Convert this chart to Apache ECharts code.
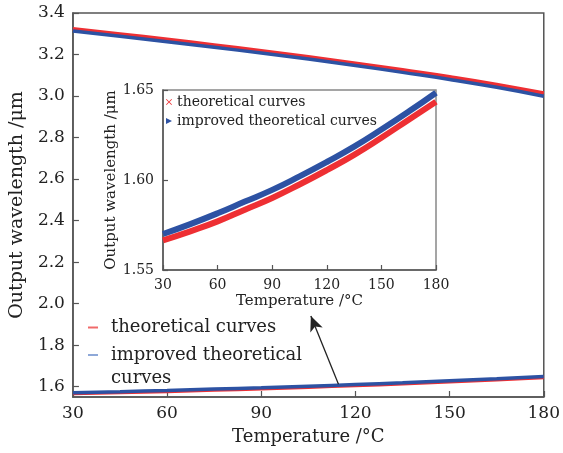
<!DOCTYPE html>
<html>
<head>
<meta charset="utf-8">
<script src="https://cdn.jsdelivr.net/npm/echarts@6/dist/echarts.min.js"></script>
<style>
  html, body { margin: 0; padding: 0; background: #fff; }
  #chart { width: 563px; height: 453px; }
</style>
</head>
<body>
<div id="chart"></div>
<script>
const temps = [30, 45, 60, 75, 90, 105, 120, 135, 150, 165, 180];

// upper branch (main plot)
const upperTheory = [3.323, 3.298, 3.272, 3.245, 3.217, 3.188, 3.157, 3.125, 3.092, 3.055, 3.013];
const upperImproved = [3.313, 3.288, 3.262, 3.235, 3.207, 3.178, 3.147, 3.114, 3.080, 3.042, 2.999];

// lower branch (main plot + inset)
const lowerTheory = [1.5665, 1.5715, 1.5770, 1.5835, 1.5900, 1.5975, 1.6055, 1.6140, 1.6235, 1.6335, 1.6435];
const lowerImproved = [1.5700, 1.5755, 1.5815, 1.5880, 1.5945, 1.6020, 1.6100, 1.6185, 1.6280, 1.6380, 1.6485];

const mainYTicks = [1.6, 1.8, 2.0, 2.2, 2.4, 2.6, 2.8, 3.0, 3.2, 3.4];

// arrow from the lower curve up to the inset
const arrowFrom = [114.6, 1.612];
const arrowTo = [105.8, 1.94];

const RED = '#ee2f33';
const BLUE = '#2d52a3';
const FONT = 'DejaVu Serif';
const TXT = '#222';

const pairs = (ys) => temps.map((t, i) => [t, ys[i]]);

const chart = echarts.init(document.getElementById('chart'));

const axisText = (size) => ({ fontFamily: FONT, fontSize: size, color: TXT });

chart.setOption({
  animation: false,
  backgroundColor: '#fff',
  grid: [
    { left: 70, top: 13, width: 479, height: 384, show: true, borderColor: '#555', borderWidth: 1.5 },
    { left: 163, top: 90, width: 273, height: 180, show: true, borderColor: '#888', borderWidth: 1.5, backgroundColor: '#fff', z: 5 }
  ],
  xAxis: [
    {
      gridIndex: 0, type: 'value', min: 30, max: 180, interval: 30,
      name: 'Temperature /°C', nameLocation: 'middle', nameGap: 31,
      nameTextStyle: axisText(18),
      axisLine: { lineStyle: { color: '#555', width: 1.5 } },
      axisTick: { inside: true, length: 6, lineStyle: { color: '#555', width: 1.2 } },
      axisLabel: Object.assign({ margin: 8 }, axisText(17)),
      splitLine: { show: false }
    },
    {
      gridIndex: 1, type: 'value', min: 30, max: 180, interval: 30, z: 6,
      name: 'Temperature /°C', nameLocation: 'middle', nameGap: 24,
      nameTextStyle: axisText(15),
      axisLine: { lineStyle: { color: '#555', width: 1.5 } },
      axisTick: { inside: true, length: 5, lineStyle: { color: '#555', width: 1.2 } },
      axisLabel: Object.assign({ margin: 8 }, axisText(14)),
      splitLine: { show: false }
    }
  ],
  yAxis: [
    {
      gridIndex: 0, type: 'value', min: 1.55, max: 3.4,
      name: 'Output wavelength /μm', nameLocation: 'middle', nameGap: 39,
      nameTextStyle: axisText(19),
      axisLine: { lineStyle: { color: '#555', width: 1.5 } },
      axisTick: { inside: true, length: 6, customValues: mainYTicks, lineStyle: { color: '#555', width: 1.2 } },
      axisLabel: Object.assign({ margin: 8, customValues: mainYTicks, formatter: v => v.toFixed(1) }, axisText(17)),
      splitLine: { show: false }
    },
    {
      gridIndex: 1, type: 'value', min: 1.55, max: 1.65, interval: 0.05, z: 6,
      name: 'Output wavelength /μm', nameLocation: 'middle', nameGap: 33,
      nameTextStyle: axisText(15),
      axisLine: { lineStyle: { color: '#555', width: 1.5 } },
      axisTick: { inside: true, length: 5, lineStyle: { color: '#555', width: 1.2 } },
      axisLabel: Object.assign({ margin: 9, formatter: v => v.toFixed(2) }, axisText(14)),
      splitLine: { show: false }
    }
  ],
  legend: [
    {
      padding: 0, left: 88, top: 316, orient: 'vertical',
      itemWidth: 10, itemHeight: 2,
      textStyle: { fontFamily: FONT, fontSize: 18, color: TXT, lineHeight: 23, padding: [0, 0, 0, 8] },
      data: [{ name: 'theoretical curves', icon: 'rect', itemStyle: { color: '#f06a6a' } }]
    },
    {
      // blank first line keeps the icon level with "improved theoretical"
      padding: 0, left: 88, top: 320.5, orient: 'vertical',
      itemWidth: 10, itemHeight: 2,
      formatter: name => '\u00a0\n' + name,
      textStyle: { fontFamily: FONT, fontSize: 18, color: TXT, lineHeight: 23, padding: [0, 0, 0, 8] },
      data: [{ name: 'improved theoretical\ncurves', icon: 'rect', itemStyle: { color: '#8ea8d8' } }]
    },
    {
      padding: 0, left: 166, top: 94, orient: 'vertical', z: 8,
      itemWidth: 6, itemHeight: 6, itemGap: 3,
      textStyle: { fontFamily: FONT, fontSize: 14, color: TXT, lineHeight: 16 },
      data: [
        { name: 'theoretical curves', icon: 'path://M0,1L1,0L5,4L9,0L10,1L6,5L10,9L9,10L5,6L1,10L0,9L4,5Z', itemStyle: { color: RED } },
        { name: 'improved theoretical curves', icon: 'path://M0,0L10,5L0,10Z', itemStyle: { color: BLUE } }
      ]
    }
  ],
  series: [
    {
      name: 'theoretical curves', type: 'line', xAxisIndex: 0, yAxisIndex: 0,
      data: pairs(upperTheory), smooth: true, showSymbol: false,
      lineStyle: { color: RED, width: 4 }, itemStyle: { color: RED }
    },
    {
      name: 'improved theoretical\ncurves', type: 'line', xAxisIndex: 0, yAxisIndex: 0,
      data: pairs(upperImproved), smooth: true, showSymbol: false,
      lineStyle: { color: BLUE, width: 3.5 }, itemStyle: { color: BLUE }
    },
    {
      name: 'theoretical curves', type: 'line', xAxisIndex: 0, yAxisIndex: 0,
      data: pairs(lowerTheory), smooth: true, showSymbol: false,
      lineStyle: { color: RED, width: 3.5 }, itemStyle: { color: RED }
    },
    {
      name: 'improved theoretical\ncurves', type: 'line', xAxisIndex: 0, yAxisIndex: 0,
      data: pairs(lowerImproved), smooth: true, showSymbol: false,
      lineStyle: { color: BLUE, width: 3.5 }, itemStyle: { color: BLUE },
      markLine: {
        silent: true, symbol: ['none', 'arrow'], symbolSize: [10, 15],
        label: { show: false },
        lineStyle: { color: '#222', width: 1.3, type: 'solid' },
        data: [[{ coord: arrowFrom }, { coord: arrowTo }]]
      }
    },
    {
      name: 'theoretical curves', type: 'line', xAxisIndex: 1, yAxisIndex: 1, z: 7,
      data: pairs(lowerTheory), smooth: true, showSymbol: false,
      lineStyle: { color: RED, width: 6 }, itemStyle: { color: RED }
    },
    {
      name: 'improved theoretical curves', type: 'line', xAxisIndex: 1, yAxisIndex: 1, z: 7,
      data: pairs(lowerImproved), smooth: true, showSymbol: false,
      lineStyle: { color: BLUE, width: 6 }, itemStyle: { color: BLUE }
    }
  ]
});
</script>
</body>
</html>
